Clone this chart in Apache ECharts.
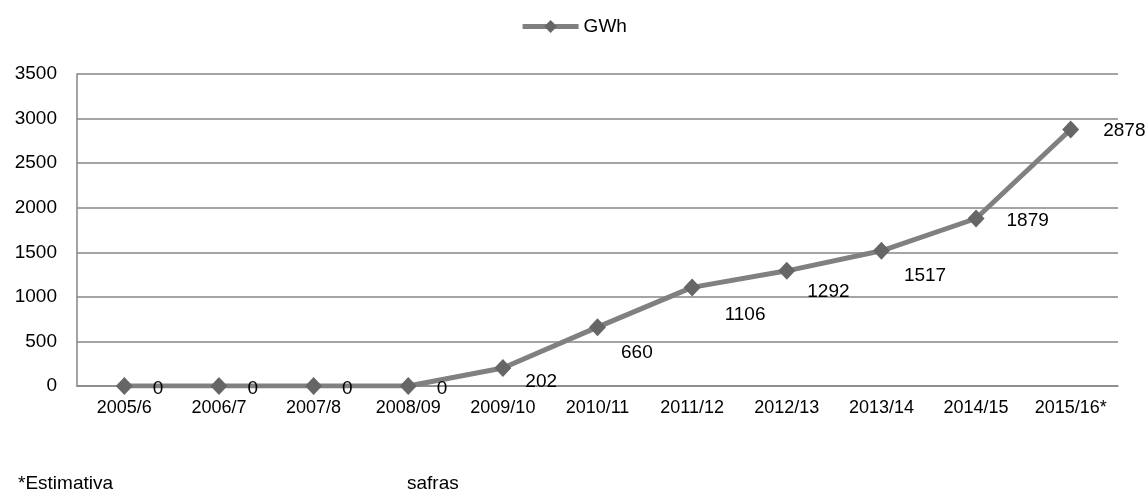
<!DOCTYPE html>
<html>
<head>
<meta charset="utf-8">
<script src="https://cdn.jsdelivr.net/npm/echarts@6/dist/echarts.min.js"></script>
<style>
    html, body {margin: 0; padding: 0; background: #fff;}
    #main {width: 1147px; height: 504px;}
</style>
</head>
<body>
<div id="main"></div>
<script>
// safras
const safras = ['2005/6', '2006/7', '2007/8', '2008/09', '2009/10', '2010/11',
    '2011/12', '2012/13', '2013/14', '2014/15', '2015/16*'];
// GWh por safra
const gwh = [0, 0, 0, 0, 202, 660, 1106, 1292, 1517, 1879, 2878];
// ticks do eixo y
const yTicks = [0, 500, 1000, 1500, 2000, 2500, 3000, 3500];

// deslocamento dos rótulos (como no Excel, cada um num lugar)
const labelShift = [[15, 3], [15, 3], [15, 3], [15, 3], [9, 14], [10, 26],
    [19, 27], [7, 21], [9, 25], [17, 2], [19, 1]];

const font = 'Liberation Sans, Arial, sans-serif';

const chart = echarts.init(document.getElementById('main'));

const option = {
    animation: false,
    textStyle: {fontFamily: font},
    legend: {
        top: 12,
        left: 'center',
        itemWidth: 56,
        itemHeight: 16,
        itemGap: 2,
        textStyle: {fontSize: 19, color: '#000', fontFamily: font},
        data: [{name: 'GWh', lineStyle: {width: 5, color: '#808080'}, itemStyle: {color: '#666666'}}]
    },
    grid: {left: 77, right: 29, top: 74, bottom: 118},
    xAxis: {
        type: 'category',
        data: safras,
        boundaryGap: true,
        axisLine: {lineStyle: {color: '#868686', width: 1.5}},
        axisTick: {show: false},
        axisLabel: {color: '#000', fontSize: 18, margin: 13, fontFamily: font}
    },
    yAxis: {
        type: 'value',
        min: yTicks[0],
        max: yTicks[yTicks.length - 1],
        interval: 500,
        axisLine: {show: true, lineStyle: {color: '#868686', width: 1.5}},
        axisTick: {show: false},
        splitLine: {lineStyle: {color: '#868686', width: 1.5}},
        axisLabel: {
            color: '#000', fontSize: 19, margin: 20, fontFamily: font,
            formatter: v => String(v)
        }
    },
    graphic: [
        {
            type: 'text', left: 18, top: 474,
            style: {text: '*Estimativa', font: '19px ' + font, fill: '#000'}
        },
        {
            type: 'text', left: 407, top: 474,
            style: {text: 'safras', font: '19px ' + font, fill: '#000'}
        }
    ],
    series: [
        {
            name: 'GWh',
            type: 'line',
            data: gwh.map((v, i) => ({
                value: v,
                label: {offset: labelShift[i]}
            })),
            symbol: 'diamond',
            symbolSize: [17, 18],
            lineStyle: {color: '#808080', width: 5},
            itemStyle: {color: '#666666'},
            label: {
                show: true,
                position: 'right',
                distance: 5,
                color: '#000',
                fontSize: 19,
                fontFamily: font
            },
            z: 3
        }
    ]
};

chart.setOption(option);
</script>
</body>
</html>
